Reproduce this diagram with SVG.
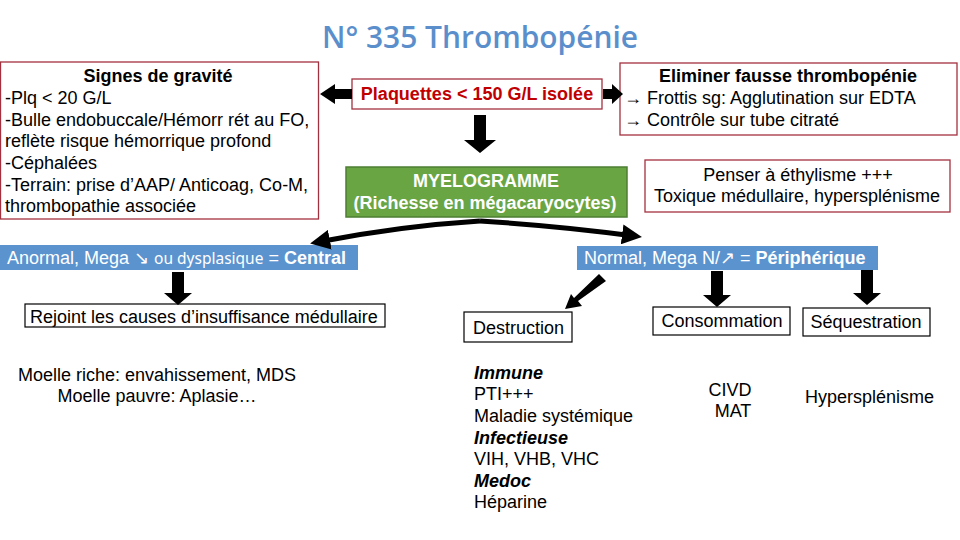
<svg xmlns="http://www.w3.org/2000/svg" width="960" height="540" viewBox="0 0 960 540">
<defs>
<style>
text{font-family:"Liberation Sans",Arial,sans-serif;font-size:18px;fill:#000}
.b{font-weight:bold}
.i{font-style:italic;font-weight:bold}
.w{fill:#fff}
.red{fill:none;stroke:#a3303f;stroke-width:1.3}
.blk{fill:#fff;stroke:#000;stroke-width:1.2}
.blue{fill:#5b93cf}
.arr{fill:#000}
.curve{fill:none;stroke:#000;stroke-width:5}
</style>
<marker id="head" viewBox="0 0 10 10" refX="6" refY="5" markerWidth="4" markerHeight="4" orient="auto" markerUnits="strokeWidth">
<path d="M0,0 L10,5 L0,10 z" fill="#000"/>
</marker>
</defs>
<rect width="960" height="540" fill="#fff"/>
<text x="480" y="48" text-anchor="middle" textLength="316" lengthAdjust="spacingAndGlyphs" style="font-family:'Open Sans',Lato,sans-serif;font-size:31px;font-weight:600;fill:#5b8fcc">N° 335 Thrombopénie</text>

<g id="gravite">
<rect class="red" x="0.5" y="62" width="318" height="157"/>
<text class="b" x="158" y="82" text-anchor="middle">Signes de gravité</text>
<text x="5" y="104">-Plq &lt; 20 G/L</text>
<text x="5" y="126">-Bulle endobuccale/Hémorr rét au FO,</text>
<text x="5" y="147">reflète risque hémorrique profond</text>
<text x="5" y="169">-Céphalées</text>
<text x="5" y="191">-Terrain: prise d’AAP/ Anticoag, Co-M,</text>
<text x="5" y="212">thrombopathie associée</text>
</g>

<g id="plaquettes">
<rect class="red" x="352" y="79" width="250" height="30" fill="#fff"/>
<text class="b" x="477" y="100" text-anchor="middle" style="fill:#c00000">Plaquettes &lt; 150 G/L isolée</text>
</g>

<g id="eliminer">
<rect class="red" x="620" y="63" width="337" height="72"/>
<text class="b" x="788" y="82" text-anchor="middle">Eliminer fausse thrombopénie</text>
<text x="624" y="104">→ Frottis sg: Agglutination sur EDTA</text>
<text x="624" y="126">→ Contrôle sur tube citraté</text>
</g>

<g id="myelogramme">
<rect x="346" y="167" width="281" height="50" fill="#6aa544" stroke="#4e7f33" stroke-width="1.5"/>
<text class="b w" x="486" y="187" text-anchor="middle">MYELOGRAMME</text>
<text class="b w" x="485" y="209" text-anchor="middle">(Richesse en mégacaryocytes)</text>
</g>

<g id="ethylisme">
<rect class="red" x="645" y="160" width="305" height="52"/>
<text x="798" y="181" text-anchor="middle">Penser à éthylisme +++</text>
<text x="797" y="202" text-anchor="middle">Toxique médullaire, hypersplénisme</text>
</g>

<g id="central">
<rect class="blue" x="0" y="245" width="358" height="25"/>
<text class="w" x="7" y="264">Anormal, Mega ↘ <tspan style="font-family:'Noto Sans',sans-serif;font-size:15.5px">ou dysplasique</tspan> = <tspan class="b">Central</tspan></text>
</g>

<g id="peripherique">
<rect class="blue" x="577" y="246" width="301" height="24"/>
<text class="w" x="584" y="264">Normal, Mega N/↗ = <tspan class="b">Périphérique</tspan></text>
</g>

<g id="rejoint">
<rect class="blk" x="25" y="304" width="360" height="23"/>
<text x="30" y="323">Rejoint les causes d’insuffisance médullaire</text>
</g>

<g id="moelle">
<text x="157" y="381" text-anchor="middle">Moelle riche: envahissement, MDS</text>
<text x="157" y="402" text-anchor="middle">Moelle pauvre: Aplasie…</text>
</g>

<g id="destruction">
<rect class="blk" x="464" y="312" width="108" height="30"/>
<text x="473" y="334">Destruction</text>
</g>

<g id="consommation">
<rect class="blk" x="653" y="307" width="137" height="28"/>
<text x="722" y="327" text-anchor="middle">Consommation</text>
</g>

<g id="sequestration">
<rect class="blk" x="803" y="308" width="127" height="28"/>
<text x="866" y="328" text-anchor="middle">Séquestration</text>
</g>

<g id="destruction-causes">
<text class="i" x="474" y="379">Immune</text>
<text x="474" y="400">PTI+++</text>
<text x="474" y="422">Maladie systémique</text>
<text class="i" x="474" y="444">Infectieuse</text>
<text x="474" y="465">VIH, VHB, VHC</text>
<text class="i" x="474" y="487">Medoc</text>
<text x="474" y="508">Héparine</text>
</g>

<g id="consommation-causes">
<text x="730" y="396" text-anchor="middle">CIVD</text>
<text x="733" y="417" text-anchor="middle">MAT</text>
</g>

<g id="sequestration-causes">
<text x="805" y="403">Hypersplénisme</text>
</g>

<g id="connectors">
<polygon class="arr" points="352,89 335,89 335,84 320,94 335,104 335,99 352,99"/>
<polygon class="arr" points="603,89 612,89 612,84 623,94 612,104 612,99 603,99"/>
<polygon class="arr" points="474,115 486,115 486,140 496,140 480,153 464,140 474,140"/>
<path class="curve" d="M480,221 Q400,226 318,242" marker-end="url(#head)"/>
<path class="curve" d="M480,221 Q560,226 634,236" marker-end="url(#head)"/>
<polygon class="arr" points="172,272 184,272 184,293 192,293 178,305 164,293 172,293"/>
<polygon class="arr" points="711,271 723,271 723,295 731,295 717,307 703,295 711,295"/>
<polygon class="arr" points="861,270 873,270 873,293 881,293 867,305 853,293 861,293"/>
<polygon class="arr" points="599,274 606,281 578,301 582,306 565,309 571,294 574,298"/>
</g>
</svg>
